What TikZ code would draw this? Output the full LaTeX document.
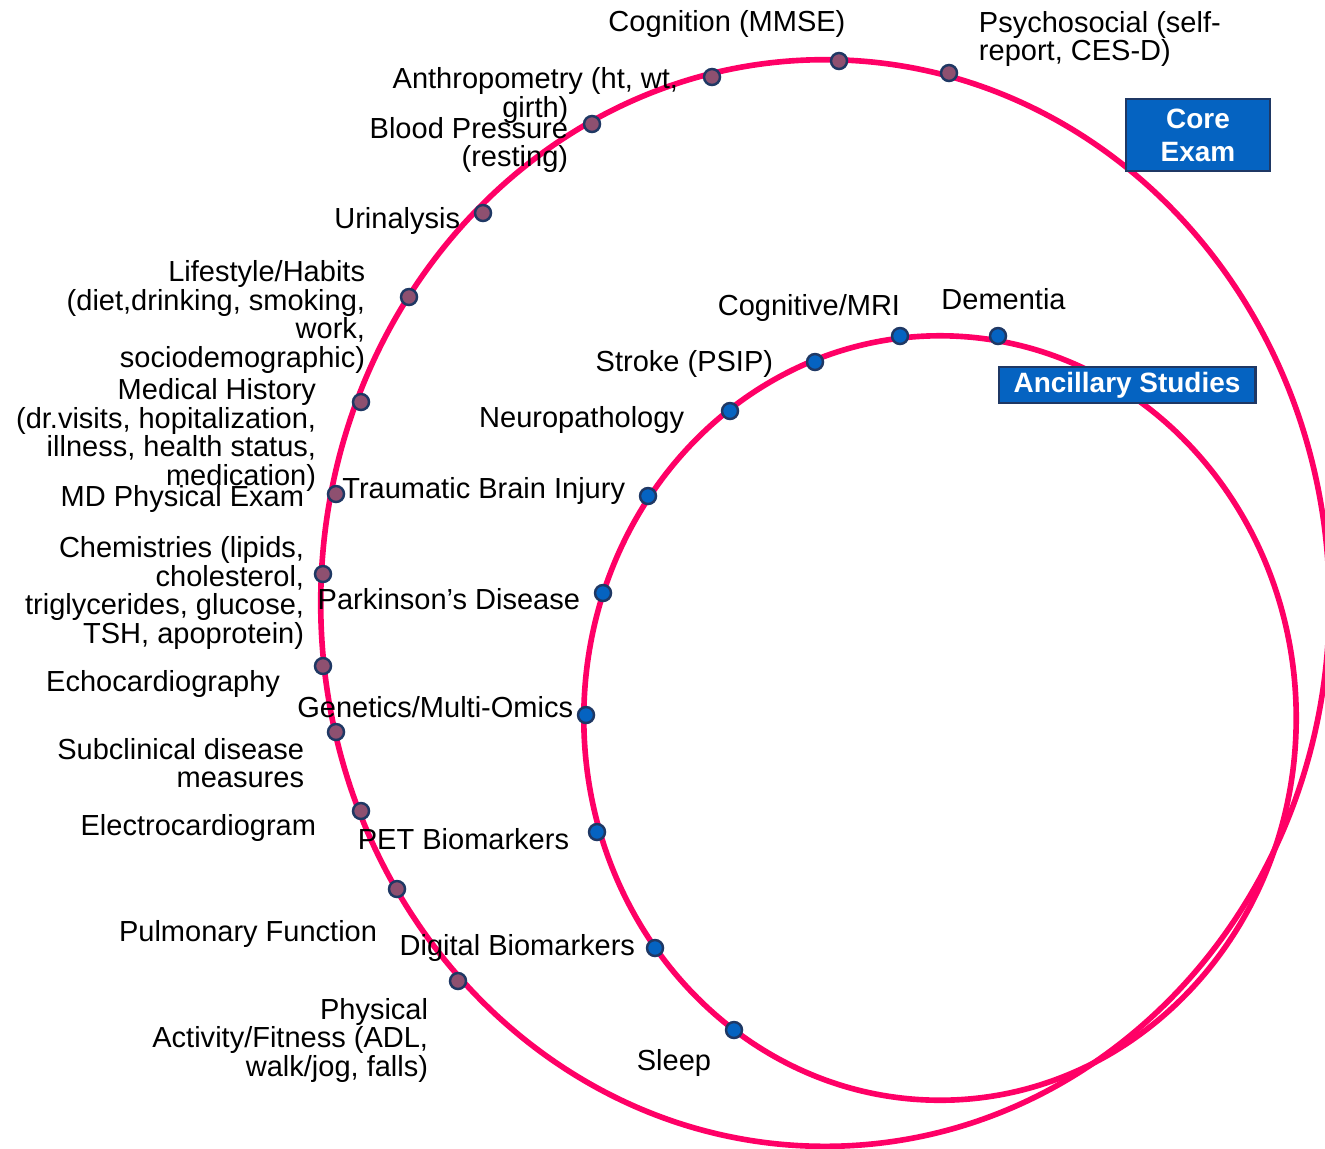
\documentclass[tikz,border=0pt]{standalone}
\usepackage{fontspec}
\setmainfont{Liberation Sans}
\usetikzlibrary{positioning}
\definecolor{ringpink}{RGB}{255, 0, 102}
\definecolor{mauve}{RGB}{142, 80, 112}
\definecolor{navy}{RGB}{31, 56, 100}
\definecolor{boxblue}{RGB}{5, 99, 193}
\tikzstyle{ring} = [draw=ringpink, line width=1.6pt]
\tikzstyle{coredot} = [circle, draw=navy, fill=mauve, line width=0.7pt, minimum size=1.6mm, inner sep=0pt]
\tikzstyle{ancdot} = [circle, draw=navy, fill=boxblue, line width=0.7pt, minimum size=1.6mm, inner sep=0pt]
\tikzstyle{lbl} = [font=\fontsize{8.25pt}{8.1pt}\selectfont, inner sep=0pt, align=right]
\tikzstyle{tag} = [draw=navy, fill=boxblue, line width=0.8pt, text=white, inner sep=0pt, align=center, font=\fontsize{7.95pt}{9.4pt}\selectfont\bfseries]

\begin{document}
\begin{tikzpicture}[x=0.01cm, y=-0.01cm]
			\useasboundingbox (0,0) rectangle (1325,1148);
			% the two rings
			\draw[ring] (825,603) ellipse [x radius=5.04cm, y radius=5.43cm];
			\draw[ring] (940,718) ellipse [x radius=3.56cm, y radius=3.82cm];

			% core exam, outer ring
			\node [coredot] (cog) at (839,61) {};
			\node [coredot] (psy) at (949,73) {};
			\node [coredot] (anth) at (712,77) {};
			\node [coredot] (bp) at (592,124) {};
			\node [coredot] (urin) at (483,213) {};
			\node [coredot] (life) at (409,297) {};
			\node [coredot] (med) at (361,402) {};
			\node [coredot] (mdpe) at (336,494) {};
			\node [coredot] (chem) at (323,574) {};
			\node [coredot] (echo) at (323,666) {};
			\node [coredot] (subc) at (336,732) {};
			\node [coredot] (ecg) at (361,811) {};
			\node [coredot] (pulm) at (397,889) {};
			\node [coredot] (phys) at (458,981) {};

			\node [lbl,above=1.4mm of cog,xshift=-11.2mm] {Cognition (MMSE)};
			\node [lbl,right=2mm of psy,yshift=3.4mm,align=left] {Psychosocial (self-\\report, CES-D)};
			\node [lbl,left=2.4mm of anth,yshift=-1.85mm,align=center] {Anthropometry (ht, wt,\\girth)};
			\node [lbl,left=1.4mm of bp,yshift=-2.1mm] {Blood Pressure\\(resting)};
			\node [lbl,left=1.3mm of urin,yshift=-0.75mm] {Urinalysis};
			\node [lbl,left=3.4mm of life,yshift=-2mm] {Lifestyle/Habits\\(diet,drinking, smoking,\\work,\\sociodemographic)};
			\node [lbl,left=3.5mm of med,yshift=-3.3mm] {Medical History\\(dr.visits, hopitalization,\\illness, health status,\\medication)};
			\node [lbl,left=2.2mm of mdpe,yshift=-0.45mm] {MD Physical Exam};
			\node [lbl,left=0.9mm of chem,yshift=-1.9mm] {Chemistries (lipids,\\cholesterol,\\triglycerides, glucose,\\TSH, apoprotein)};
			\node [lbl,left=3.3mm of echo,yshift=-1.75mm] {Echocardiography};
			\node [lbl,left=2.2mm of subc,yshift=-3.1mm] {Subclinical disease\\measures};
			\node [lbl,left=3.5mm of ecg,yshift=-1.65mm] {Electrocardiogram};
			\node [lbl,left=1mm of pulm,yshift=-4.45mm] {Pulmonary Function};
			\node [lbl,left=2mm of phys,yshift=-5.9mm] {Physical\\Activity/Fitness (ADL,\\walk/jog, falls)};

			% ancillary studies, inner ring
			\node [ancdot] (cmri) at (900,336) {};
			\node [ancdot] (dem) at (998,336) {};
			\node [ancdot] (stroke) at (815,362) {};
			\node [ancdot] (neuro) at (730,411) {};
			\node [ancdot] (tbi) at (648,496) {};
			\node [ancdot] (park) at (603,593) {};
			\node [ancdot] (gen) at (586,715) {};
			\node [ancdot] (pet) at (597,832) {};
			\node [ancdot] (dig) at (655,948) {};
			\node [ancdot] (sleep) at (734,1030) {};

			\node [lbl,above=0.45mm of cmri,xshift=-9.1mm] {Cognitive/MRI};
			\node [lbl,above=1.6mm of dem,xshift=0.55mm] {Dementia};
			\node [lbl,left=3.2mm of stroke,yshift=-0.15mm] {Stroke (PSIP)};
			\node [lbl,left=3.6mm of neuro,yshift=-0.85mm] {Neuropathology};
			\node [lbl,left=1.3mm of tbi,yshift=0.55mm] {Traumatic Brain Injury};
			\node [lbl,left=1.3mm of park,yshift=-0.65mm] {Parkinson’s Disease};
			\node [lbl,left=0.3mm of gen,yshift=0.75mm] {Genetics/Multi-Omics};
			\node [lbl,left=1.8mm of pet,yshift=-0.75mm] {PET Biomarkers};
			\node [lbl,left=1mm of dig,yshift=0.05mm] {Digital Biomarkers};
			\node [lbl,left=1.3mm of sleep,yshift=-3.25mm] {Sleep};

			% tags
			\node [tag,minimum width=14.4mm,minimum height=7.2mm] (core) at (1198,135) {Core\\Exam};
			\node [tag,minimum width=25.6mm,minimum height=3.6mm] (anc) at (1127,385) {Ancillary Studies};
\end{tikzpicture}
\end{document}
